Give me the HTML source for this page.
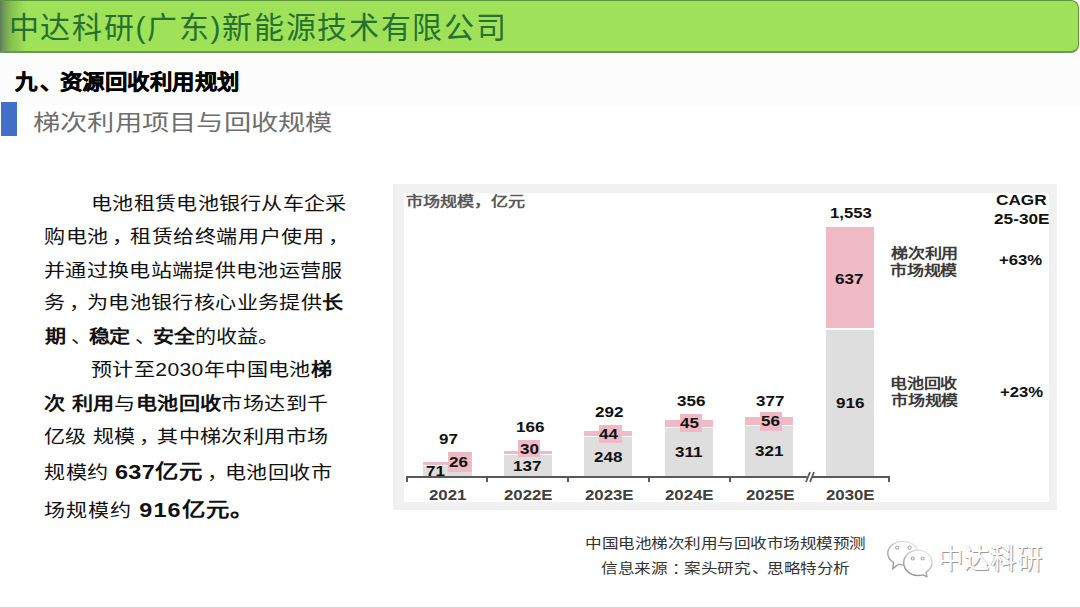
<!DOCTYPE html>
<html lang="zh-CN"><head><meta charset="utf-8">
<style>
*{margin:0;padding:0;box-sizing:border-box}
html,body{width:1080px;height:608px;overflow:hidden;background:#fff;font-family:"Liberation Sans",sans-serif}
.abs{position:absolute}
.t{position:absolute;white-space:nowrap;line-height:1;transform-origin:0 0}
.t b{font-weight:bold}
.t b.big{font-size:20px}
.t i{font-style:normal;position:relative;left:3px}
.t i.d{left:4px;margin-right:1.5px}
#band{left:0;top:53px;width:1080px;height:52px;background:#fcfcfc}
#hdr{left:-10px;top:0;width:1089px;height:53px;background:#9fe25a;border:1.5px solid #5a963e;border-bottom:2.5px solid #6a9460;border-radius:8px}
#hdrgrad{left:0;top:1px;width:26px;height:50px;background:linear-gradient(to right,#5f7a60 0,#6d9458 3px,#86c04f 11px,#9fe25a 26px)}
#bluebar{left:0.5px;top:102px;width:16.5px;height:33.5px;background:#4270c8}
#panel{left:392.5px;top:184px;width:664.5px;height:326px;background:#f1f1f1}
#inner{left:404px;top:193px;width:645px;height:309px;background:#fff}
#bline{left:0;top:606.5px;width:1080px;height:1.5px;background:#d4d4d4}
</style></head><body>
<div class="abs" id="band"></div>
<div class="abs" id="hdr"></div>
<div class="abs" id="hdrgrad"></div>
<div class="abs" id="bluebar"></div>
<div class="abs" id="panel"></div>
<div class="abs" id="inner"></div>
<div class="abs" style="left:423px;top:462px;width:49px;height:3px;background:#efb9c6"></div>
<div class="abs" style="left:423px;top:466px;width:49px;height:10px;background:#dedede"></div>
<div class="abs" style="left:504px;top:451px;width:48px;height:3px;background:#efb9c6"></div>
<div class="abs" style="left:504px;top:455px;width:48px;height:21px;background:#dedede"></div>
<div class="abs" style="left:584px;top:431px;width:48px;height:5px;background:#efb9c6"></div>
<div class="abs" style="left:584px;top:437px;width:48px;height:39px;background:#dedede"></div>
<div class="abs" style="left:665px;top:420px;width:48px;height:7px;background:#efb9c6"></div>
<div class="abs" style="left:665px;top:428px;width:48px;height:48px;background:#dedede"></div>
<div class="abs" style="left:745px;top:416.5px;width:48px;height:8.5px;background:#efb9c6"></div>
<div class="abs" style="left:745px;top:426px;width:48px;height:50px;background:#dedede"></div>
<div class="abs" style="left:826px;top:227px;width:48px;height:101px;background:#efb9c6"></div>
<div class="abs" style="left:826px;top:330px;width:48px;height:146px;background:#dedede"></div>
<div class="abs" style="left:448px;top:452px;width:24px;height:20px;background:#efb9c6"></div>
<div class="abs" style="left:518px;top:439.5px;width:22px;height:17.0px;background:#efb9c6"></div>
<div class="abs" style="left:598.5px;top:424.5px;width:23.0px;height:18.0px;background:#efb9c6"></div>
<div class="abs" style="left:679.5px;top:413.5px;width:22.0px;height:18.0px;background:#efb9c6"></div>
<div class="abs" style="left:759.5px;top:411.5px;width:22.5px;height:19.0px;background:#efb9c6"></div>
<div class="abs" style="left:406px;top:476px;width:484px;height:2px;background:#595959"></div>
<div class="abs" style="left:406px;top:476px;width:2px;height:6px;background:#595959"></div>
<div class="abs" style="left:486px;top:476px;width:2px;height:6px;background:#595959"></div>
<div class="abs" style="left:567px;top:476px;width:2px;height:6px;background:#595959"></div>
<div class="abs" style="left:648px;top:476px;width:2px;height:6px;background:#595959"></div>
<div class="abs" style="left:729px;top:476px;width:2px;height:6px;background:#595959"></div>
<div class="abs" style="left:888px;top:476px;width:2px;height:6px;background:#595959"></div>
<svg class="abs" style="left:800px;top:468px" width="20" height="18"><rect x="7" y="7" width="5" height="4" fill="#fff"/><line x1="6" y1="14" x2="10" y2="4" stroke="#595959" stroke-width="1.8"/><line x1="10" y1="14" x2="14" y2="4" stroke="#595959" stroke-width="1.8"/></svg>
<div id="title" class="t" style="left:8.70px;top:12.60px;font-size:30px;transform:scaleX(1.0000);letter-spacing:1.700px;color:#267030;font-weight:500">中达科研(广东)新能源技术有限公司</div>
<div id="heading" class="t" style="left:15.30px;top:71.20px;font-size:21px;transform:scaleX(1.0692);letter-spacing:0.000px;font-weight:bold;color:#000;-webkit-text-stroke:0.35px #000">九<span style="position:relative;left:2px">、</span>资源回收利用规划</div>
<div id="sub" class="t" style="left:33.40px;top:111.60px;font-size:22px;transform:scaleX(1.2383);letter-spacing:0.000px;color:#6e6e6e;font-weight:300">梯次利用项目与回收规模</div>
<div id="L1" class="t" style="left:91.00px;top:194.90px;font-size:18px;transform:scaleX(1.1700);letter-spacing:0.207px;color:#111">电池租赁电池银行从车企采</div>
<div id="L2" class="t" style="left:44.20px;top:227.80px;font-size:18px;transform:scaleX(1.1700);letter-spacing:0.418px;color:#111">购电池<i>，</i>租赁给终端用户使用<i>，</i></div>
<div id="L3" class="t" style="left:44.40px;top:261.90px;font-size:18px;transform:scaleX(1.1700);letter-spacing:0.221px;color:#111">并通过换电站端提供电池运营服</div>
<div id="L4" class="t" style="left:44.00px;top:294.30px;font-size:18px;transform:scaleX(1.1700);letter-spacing:0.287px;color:#111">务<i>，</i>为电池银行核心业务提供<b>长</b></div>
<div id="L5" class="t" style="left:45.00px;top:327.80px;font-size:18px;transform:scaleX(1.1700);letter-spacing:-0.127px;color:#111"><b>期</b><i class="d">、</i><b>稳定</b><i class="d">、</i><b>安全</b>的收益。</div>
<div id="L6" class="t" style="left:91.20px;top:361.40px;font-size:18px;transform:scaleX(1.1700);letter-spacing:0.328px;color:#111">预计至2030年中国电池<b>梯</b></div>
<div id="L7" class="t" style="left:44.00px;top:395.10px;font-size:18px;transform:scaleX(1.1700);letter-spacing:0.287px;color:#111"><b>次 利用</b>与<b>电池回收</b>市场达到千</div>
<div id="L8" class="t" style="left:44.00px;top:427.80px;font-size:18px;transform:scaleX(1.1700);letter-spacing:0.287px;color:#111">亿级 规模<i>，</i>其中梯次利用市场</div>
<div id="L9" class="t" style="left:44.00px;top:462.40px;font-size:18px;transform:scaleX(1.1700);letter-spacing:0.398px;color:#111">规模约 <b class="big">637亿元</b><i>，</i>电池回收市</div>
<div id="L10" class="t" style="left:44.00px;top:499.80px;font-size:18px;transform:scaleX(1.1700);letter-spacing:0.898px;color:#111">场规模约 <b class="big">916亿元。</b></div>
<div id="c_unit" class="t" style="left:406.47px;top:194.24px;font-size:14.0px;transform:scaleX(1.2200);letter-spacing:0.000px;font-weight:bold;color:#595959">市场规模，亿元</div>
<div id="c_CAGR" class="t" style="left:995.90px;top:193.33px;font-size:14.6px;transform:scaleX(1.1800);letter-spacing:0.000px;font-weight:bold;color:#111">CAGR</div>
<div id="c_2530E" class="t" style="left:993.86px;top:211.53px;font-size:14.6px;transform:scaleX(1.1800);letter-spacing:0.000px;font-weight:bold;color:#111">25-30E</div>
<div id="c_1553" class="t" style="left:830.29px;top:205.63px;font-size:14.8px;transform:scaleX(1.1300);letter-spacing:0.000px;font-weight:bold;color:#111">1,553</div>
<div id="c_tici" class="t" style="left:890.95px;top:245.73px;font-size:14.2px;transform:scaleX(1.2000);letter-spacing:0.000px;font-weight:bold;color:#3a3a3a">梯次利用</div>
<div id="c_shichang1" class="t" style="left:890.18px;top:263.38px;font-size:14.2px;transform:scaleX(1.2000);letter-spacing:0.000px;font-weight:bold;color:#3a3a3a">市场规模</div>
<div id="c_p63" class="t" style="left:999.46px;top:252.42px;font-size:15.2px;transform:scaleX(1.1000);letter-spacing:0.000px;font-weight:bold;color:#111">+63%</div>
<div id="c_637" class="t" style="left:834.96px;top:270.52px;font-size:15.5px;transform:scaleX(1.1000);letter-spacing:0.000px;font-weight:bold;color:#111">637</div>
<div id="c_dianchi" class="t" style="left:889.54px;top:376.41px;font-size:14.2px;transform:scaleX(1.2000);letter-spacing:0.000px;font-weight:bold;color:#3a3a3a">电池回收</div>
<div id="c_p23" class="t" style="left:999.76px;top:383.77px;font-size:15.2px;transform:scaleX(1.1000);letter-spacing:0.000px;font-weight:bold;color:#111">+23%</div>
<div id="c_916" class="t" style="left:835.85px;top:394.72px;font-size:15.5px;transform:scaleX(1.1000);letter-spacing:0.000px;font-weight:bold;color:#111">916</div>
<div id="c_97" class="t" style="left:438.88px;top:432.43px;font-size:14.2px;transform:scaleX(1.2000);letter-spacing:0.000px;font-weight:bold;color:#111">97</div>
<div id="c_26" class="t" style="left:449.19px;top:454.58px;font-size:14.2px;transform:scaleX(1.2000);letter-spacing:0.000px;font-weight:bold;color:#111">26</div>
<div id="c_71" class="t" style="left:425.96px;top:464.33px;font-size:14.2px;transform:scaleX(1.2000);letter-spacing:0.000px;font-weight:bold;color:#111">71</div>
<div id="c_166" class="t" style="left:515.70px;top:420.13px;font-size:14.2px;transform:scaleX(1.2000);letter-spacing:0.000px;font-weight:bold;color:#111">166</div>
<div id="c_30" class="t" style="left:519.76px;top:442.18px;font-size:14.2px;transform:scaleX(1.2000);letter-spacing:0.000px;font-weight:bold;color:#111">30</div>
<div id="c_137" class="t" style="left:512.75px;top:459.03px;font-size:14.2px;transform:scaleX(1.2000);letter-spacing:0.000px;font-weight:bold;color:#111">137</div>
<div id="c_292" class="t" style="left:595.36px;top:404.98px;font-size:14.2px;transform:scaleX(1.2000);letter-spacing:0.000px;font-weight:bold;color:#111">292</div>
<div id="c_44" class="t" style="left:599.46px;top:426.83px;font-size:14.2px;transform:scaleX(1.2000);letter-spacing:0.000px;font-weight:bold;color:#111">44</div>
<div id="c_248" class="t" style="left:593.77px;top:450.08px;font-size:14.2px;transform:scaleX(1.2000);letter-spacing:0.000px;font-weight:bold;color:#111">248</div>
<div id="c_356" class="t" style="left:676.54px;top:394.13px;font-size:14.2px;transform:scaleX(1.2000);letter-spacing:0.000px;font-weight:bold;color:#111">356</div>
<div id="c_45" class="t" style="left:680.26px;top:416.36px;font-size:14.2px;transform:scaleX(1.2000);letter-spacing:0.000px;font-weight:bold;color:#111">45</div>
<div id="c_311" class="t" style="left:675.33px;top:445.18px;font-size:14.2px;transform:scaleX(1.2000);letter-spacing:0.000px;font-weight:bold;color:#111">311</div>
<div id="c_377" class="t" style="left:756.19px;top:394.13px;font-size:14.2px;transform:scaleX(1.2000);letter-spacing:0.000px;font-weight:bold;color:#111">377</div>
<div id="c_56" class="t" style="left:760.74px;top:413.68px;font-size:14.2px;transform:scaleX(1.2000);letter-spacing:0.000px;font-weight:bold;color:#111">56</div>
<div id="c_321" class="t" style="left:754.61px;top:444.33px;font-size:14.2px;transform:scaleX(1.2000);letter-spacing:0.000px;font-weight:bold;color:#111">321</div>
<div id="c_y2021" class="t" style="left:429.42px;top:486.83px;font-size:15.0px;transform:scaleX(1.1200);letter-spacing:0.000px;font-weight:bold;color:#404040">2021</div>
<div id="c_y2022" class="t" style="left:504.16px;top:486.83px;font-size:15.0px;transform:scaleX(1.1200);letter-spacing:0.000px;font-weight:bold;color:#404040">2022E</div>
<div id="c_y2023" class="t" style="left:584.66px;top:486.83px;font-size:15.0px;transform:scaleX(1.1200);letter-spacing:0.000px;font-weight:bold;color:#404040">2023E</div>
<div id="c_y2024" class="t" style="left:665.36px;top:486.83px;font-size:15.0px;transform:scaleX(1.1200);letter-spacing:0.000px;font-weight:bold;color:#404040">2024E</div>
<div id="c_y2025" class="t" style="left:746.01px;top:486.83px;font-size:15.0px;transform:scaleX(1.1200);letter-spacing:0.000px;font-weight:bold;color:#404040">2025E</div>
<div id="c_y2030" class="t" style="left:826.46px;top:486.72px;font-size:15.0px;transform:scaleX(1.1200);letter-spacing:0.000px;font-weight:bold;color:#404040">2030E</div>
<div id="c_shichang2" class="t" style="left:890.58px;top:392.98px;font-size:14.2px;transform:scaleX(1.2000);letter-spacing:0.000px;font-weight:bold;color:#3a3a3a">市场规模</div>
<div id="cap1" class="t" style="left:584.90px;top:536.10px;font-size:14px;transform:scaleX(1.1860);letter-spacing:-0.063px;color:#333">中国电池梯次利用与回收市场规模预测</div>
<div id="cap2" class="t" style="left:600.50px;top:561.30px;font-size:14px;transform:scaleX(1.1860);letter-spacing:0.000px;color:#333">信息来源<span style="position:relative;left:4px">：</span>案头研究<span style="position:relative;left:1px">、</span>思略特分析</div>
<svg class="abs" style="left:882px;top:536px" width="56" height="44" viewBox="0 0 56 44">
<defs>
<linearGradient id="g1" x1="1" y1="0" x2="0" y2="1"><stop offset="0" stop-color="#f0f0f0"/><stop offset="0.45" stop-color="#c8c8c8"/><stop offset="1" stop-color="#8a8a8a"/></linearGradient>
<linearGradient id="g2" x1="0.8" y1="0" x2="0.2" y2="1"><stop offset="0" stop-color="#e8e8e8"/><stop offset="0.5" stop-color="#b8b8b8"/><stop offset="1" stop-color="#888"/></linearGradient>
</defs>
<path d="M21 5.4 C12.5 5.4 5.8 10.7 5.8 17.2 C5.8 21 8 24.3 11.5 26.5 L10.9 32.6 L16.5 28.2 C18 28.7 19.5 29 21 29 C29.4 29 36.2 23.7 36.2 17.2 C36.2 10.7 29.4 5.4 21 5.4 Z" fill="#fff" stroke="url(#g1)" stroke-width="1.4"/>
<path d="M35.85 14.1 C28 14.1 21.7 19.8 21.7 26.8 C21.7 33.8 28 39.5 35.85 39.5 C37.5 39.5 39 39.3 40.5 38.8 L44.9 40.6 L44 36.3 C47.8 34 50 30.6 50 26.8 C50 19.8 43.7 14.1 35.85 14.1 Z" fill="#fff" stroke="url(#g2)" stroke-width="1.4"/>
<g fill="none" stroke="#a8a8a8" stroke-width="1.1"><circle cx="15.2" cy="11.6" r="1.6"/><circle cx="27.5" cy="11.6" r="1.6"/><circle cx="30.8" cy="22.5" r="1.5"/><circle cx="40.6" cy="22.5" r="1.5"/></g>
</svg>
<div class="t" style="left:937.5px;top:546px;font-size:28px;transform:scaleX(0.9);color:#fff;letter-spacing:1.3px;text-shadow:1px 1px 0 #9a9a9a,-0.5px -0.5px 0 #c8c8c8">中达科研</div>
<div class="abs" id="bline"></div>
</body></html>
